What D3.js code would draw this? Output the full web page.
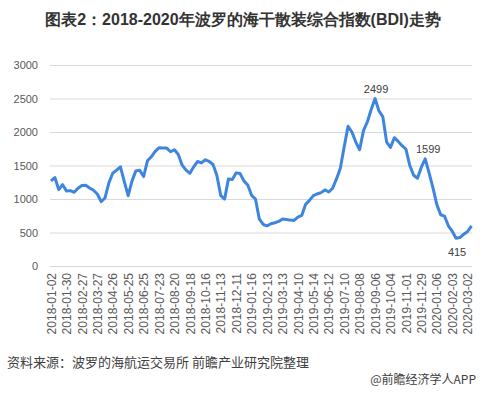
<!DOCTYPE html>
<html lang="zh">
<head>
<meta charset="utf-8">
<title>BDI 2018-2020</title>
<script src="https://cdnjs.cloudflare.com/ajax/libs/d3/7.8.5/d3.min.js"></script>
<style>
  body { margin: 0; background: #fff; }
  svg text { font-family: "Liberation Sans", Arial, sans-serif; }
</style>
</head>
<body>
<script>
// size of the page
var w = 485, h = 394;

// x labels, one every 4 weekly readings
var dates = ["2018-01-02","2018-01-30","2018-02-27","2018-03-27","2018-04-26","2018-05-25","2018-06-25",
  "2018-07-23","2018-08-20","2018-09-18","2018-10-16","2018-11-13","2018-12-11","2019-01-16","2019-02-13",
  "2019-03-13","2019-04-10","2019-05-14","2019-06-12","2019-07-10","2019-08-08","2019-09-06","2019-10-04",
  "2019-11-01","2019-11-29","2020-01-06","2020-02-03","2020-03-02"];

// BDI, weekly readings
var bdi = [1270,1320,1140,1215,1120,1125,1100,1160,1200,1205,
  1165,1130,1075,960,1015,1240,1385,1430,1480,1260,
  1050,1270,1420,1430,1335,1570,1630,1710,1765,1760,
  1760,1705,1735,1665,1505,1430,1385,1480,1560,1540,
  1585,1560,1515,1350,1050,1000,1300,1290,1390,1380,
  1270,1210,1055,1000,700,620,600,630,645,665,
  700,695,685,680,730,755,920,980,1050,1075,
  1095,1135,1105,1160,1300,1460,1780,2085,2000,1850,
  1735,2020,2150,2335,2499,2315,2230,1850,1770,1915,
  1860,1795,1745,1500,1355,1310,1475,1599,1390,1170,
  920,765,745,600,520,415,425,475,515,600];

var yTicks = [0, 500, 1000, 1500, 2000, 2500, 3000];
var marked = [84, 97, 105];   // points with value labels
var labelStep = 4;

var svg = d3.select("body").append("svg")
    .attr("width", w)
    .attr("height", h);

var x = d3.scaleLinear().domain([0, bdi.length - 1]).range([51, 471.5]);
var y = d3.scaleLinear().domain([0, 3000]).range([266, 65]);

// title
svg.append("text")
    .attr("x", 243).attr("y", 25)
    .attr("text-anchor", "middle")
    .attr("font-size", 16).attr("font-weight", "bold")
    .attr("fill", "#333")
    .text("图表2：2018-2020年波罗的海干散装综合指数(BDI)走势");

// gridlines + y labels
var yAxis = svg.append("g")
    .attr("transform", "translate(50,0)")
    .call(d3.axisLeft(y).tickValues(yTicks).tickSize(-422).tickPadding(12).tickFormat(d3.format("d")));
yAxis.select(".domain").remove();
yAxis.selectAll("line").attr("stroke", "#d9d9d9");
yAxis.selectAll("text").attr("font-size", 11).attr("fill", "#595959")
    .style("font-family", "'Liberation Sans', Arial, sans-serif");

// x labels
var xTickIdx = dates.map(function(d, i) { return i * labelStep; });
var xAxis = svg.append("g")
    .attr("transform", "translate(0,266)")
    .call(d3.axisBottom(x).tickValues(xTickIdx).tickSize(0)
        .tickFormat(function(d) { return dates[d / labelStep]; }));
xAxis.select(".domain").remove();
xAxis.selectAll("text")
    .attr("font-size", 12).attr("fill", "#595959")
    .style("font-family", "'Liberation Sans', Arial, sans-serif")
    .attr("text-anchor", "end")
    .attr("transform", "rotate(-90)")
    .attr("x", -7).attr("y", 0).attr("dy", "0.35em");

// the line
var line = d3.line()
    .x(function(d, i) { return x(i); })
    .y(function(d) { return y(d); });

svg.append("path")
    .datum(bdi)
    .attr("d", line)
    .attr("fill", "none")
    .attr("stroke", "#3d85de")
    .attr("stroke-width", 3)
    .attr("stroke-linejoin", "round");

// value labels
svg.selectAll(".vlabel")
    .data(marked)
    .enter()
    .append("text")
    .attr("class", "vlabel")
    .attr("x", function(d) { return x(d) + (d === 97 ? 3 : 1); })
    .attr("y", function(d) { return d === 105 ? y(bdi[d]) + 18 : y(bdi[d]) - 6; })
    .attr("text-anchor", "middle")
    .attr("font-size", 11)
    .attr("fill", "#404040")
    .text(function(d) { return bdi[d]; });

// footer
svg.append("text")
    .attr("x", 7).attr("y", 367)
    .attr("font-size", 13).attr("fill", "#404040")
    .style("font-family", "'Noto Sans CJK SC', sans-serif")
    .text("资料来源：波罗的海航运交易所 前瞻产业研究院整理");

svg.append("text")
    .attr("x", 476).attr("y", 384)
    .attr("text-anchor", "end")
    .attr("font-size", 12).attr("fill", "#404040")
    .style("font-family", "'Noto Sans CJK SC', sans-serif")
    .text("@前瞻经济学人APP");
</script>
</body>
</html>
